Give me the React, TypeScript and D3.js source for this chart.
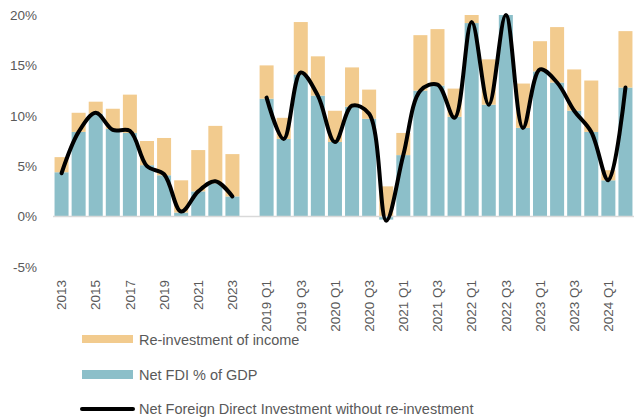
import React from "react";
import * as d3 from "d3";

// annual block, one empty slot, then quarterly block
const annualLabels = ["2013", "2014", "2015", "2016", "2017", "2018", "2019", "2020", "2021", "2022", "2023"];
const quarterLabels = [
  "2019 Q1", "2019 Q2", "2019 Q3", "2019 Q4",
  "2020 Q1", "2020 Q2", "2020 Q3", "2020 Q4",
  "2021 Q1", "2021 Q2", "2021 Q3", "2021 Q4",
  "2022 Q1", "2022 Q2", "2022 Q3", "2022 Q4",
  "2023 Q1", "2023 Q2", "2023 Q3", "2023 Q4",
  "2024 Q1", "2024 Q2",
];

// Net FDI % of GDP (blue)
const netFdiAnnual = [4.4, 8.4, 10.2, 8.7, 8.3, 5.1, 4.1, 0.4, 2.5, 3.3, 2.0];
const netFdiQuarter = [11.7, 7.7, 14.1, 12.0, 7.4, 10.9, 9.7, -0.3, 6.1, 12.5, 13.0, 9.9, 19.2, 11.1, 20.5, 8.8, 14.4, 13.3, 10.5, 8.4, 3.6, 12.8];

// Re-investment of income (orange), stacked on top
const reinvAnnual = [1.5, 1.9, 1.2, 2.0, 3.8, 2.4, 3.7, 3.2, 4.1, 5.7, 4.2];
const reinvQuarter = [3.3, 2.1, 5.2, 3.9, 3.1, 3.9, 2.9, 3.0, 2.2, 5.5, 5.6, 2.8, 1.3, 4.5, 0.5, 4.4, 3.0, 5.5, 4.1, 5.1, 1.0, 5.6];

// Net FDI without re-investment (black line)
const lineAnnual = [4.3, 8.4, 10.3, 8.6, 8.5, 5.0, 4.2, 0.5, 2.5, 3.5, 2.0];
const lineQuarter = [11.8, 7.7, 14.3, 12.0, 7.4, 11.0, 10.2, -0.4, 6.1, 12.5, 13.1, 9.8, 19.3, 11.1, 20.0, 8.8, 14.6, 13.3, 10.5, 8.4, 3.6, 12.8];

const yTicks = [-5, 0, 5, 10, 15, 20];

const BLUE = "#8cbfc9";
const ORANGE = "#f2cb8e";
const TEXT = "#595959";
const FONT = "'Liberation Sans', Arial, sans-serif";

export default function App() {
  const width = 641;
  const height = 418;
  const left = 53;
  const right = 634;
  const top = 15;
  const bottom = 267;

  const categories = [...annualLabels, "gap", ...quarterLabels];
  const x = d3.scaleBand<string>().domain(categories).range([left, right]).paddingInner(0.18).paddingOuter(0.09);
  const y = d3.scaleLinear().domain([-5, 20]).range([bottom, top]);

  const bars = [
    ...annualLabels.map((c, i) => ({ c, net: netFdiAnnual[i], re: reinvAnnual[i] })),
    ...quarterLabels.map((c, i) => ({ c, net: netFdiQuarter[i], re: reinvQuarter[i] })),
  ];

  const line = d3
    .line<[string, number]>()
    .x((d) => (x(d[0]) as number) + x.bandwidth() / 2)
    .y((d) => y(d[1]))
    .curve(d3.curveCatmullRom.alpha(0.5));

  const seg1 = annualLabels.map((c, i) => [c, lineAnnual[i]] as [string, number]);
  const seg2 = quarterLabels.map((c, i) => [c, lineQuarter[i]] as [string, number]);

  // every other category gets a label
  const tickLabels = categories.filter((c, i) => i % 2 === 0 && c !== "gap");

  return (
    <svg width={width} height={height} style={{ position: "absolute", left: 0, top: 0 }} fontFamily={FONT}>
      <defs>
        <clipPath id="plot">
          <rect x={left} y={top} width={right - left} height={bottom - top} />
        </clipPath>
      </defs>
      <g clipPath="url(#plot)">
        {bars.map((b) => {
          const bx = x(b.c) as number;
          const base = Math.max(b.net, 0);
          return (
            <g key={b.c}>
              <rect x={bx} width={x.bandwidth()} y={y(Math.max(b.net, 0))} height={Math.abs(y(0) - y(b.net))} fill={BLUE} />
              <rect x={bx} width={x.bandwidth()} y={y(base + b.re)} height={y(base) - y(base + b.re)} fill={ORANGE} />
            </g>
          );
        })}
      </g>
      <line x1={left} x2={right} y1={y(0)} y2={y(0)} stroke="#d9d9d9" strokeWidth={1.5} />
      <path d={line(seg1) || ""} fill="none" stroke="#000" strokeWidth={4} strokeLinecap="round" strokeLinejoin="round" />
      <path d={line(seg2) || ""} fill="none" stroke="#000" strokeWidth={4} strokeLinecap="round" strokeLinejoin="round" />

      {yTicks.map((t) => (
        <text key={t} x={37} y={y(t)} dy="0.35em" textAnchor="end" fontSize={13.5} fill={TEXT}>
          {t}%
        </text>
      ))}

      {tickLabels.map((c) => (
        <text
          key={c}
          transform={`translate(${(x(c) as number) + x.bandwidth() / 2},280) rotate(-90)`}
          dy="0.35em"
          textAnchor="end"
          fontSize={13.5}
          fill={TEXT}
        >
          {c}
        </text>
      ))}

      <g fontSize={14.5} fill={TEXT}>
        <rect x={82} y={335} width={51} height={8} fill={ORANGE} />
        <text x={139} y={340} dy="0.35em">Re-investment of income</text>
        <rect x={82} y={370} width={51} height={9} fill={BLUE} />
        <text x={139} y={375} dy="0.35em">Net FDI % of GDP</text>
        <line x1={82} x2={133} y1={409} y2={409} stroke="#000" strokeWidth={4} strokeLinecap="round" />
        <text x={139} y={409} dy="0.35em">Net Foreign Direct Investment without re-investment</text>
      </g>
    </svg>
  );
}
